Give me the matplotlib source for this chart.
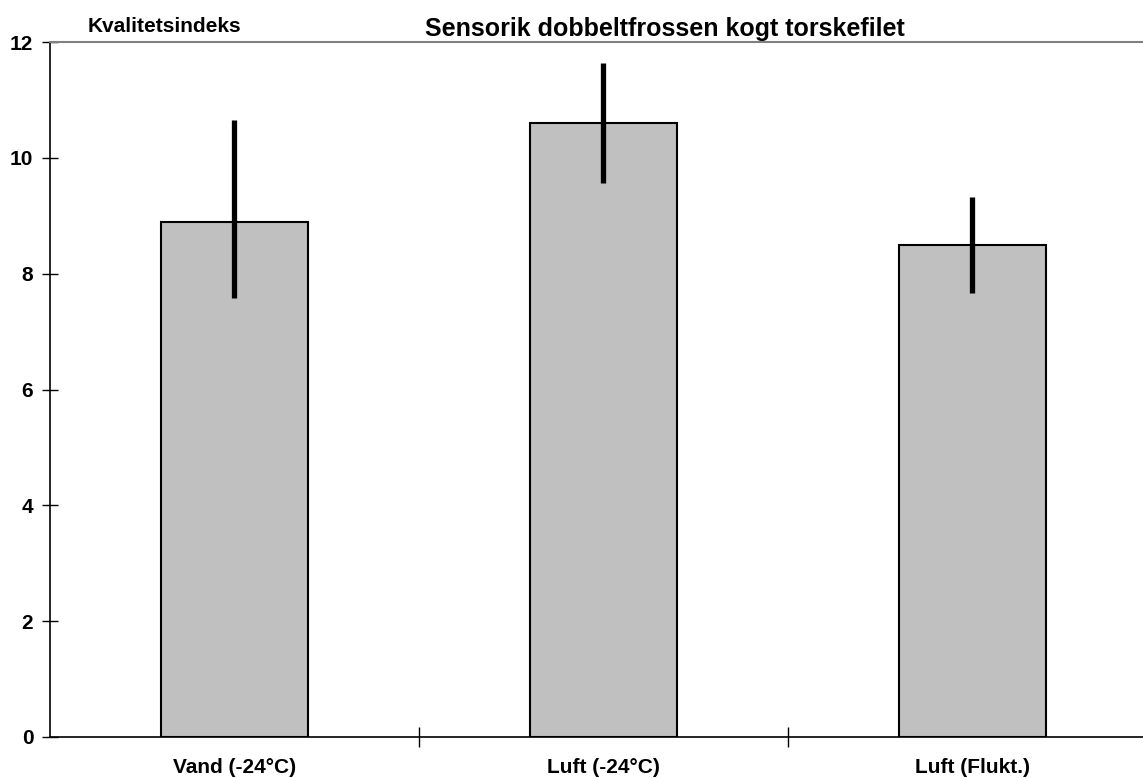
import matplotlib.pyplot as plt
import numpy as np

plt.rcParams['font.family'] = ['Liberation Sans', 'DejaVu Sans']
plt.rcParams['font.weight'] = 'bold'

categories = ['Vand (-24°C)', 'Luft (-24°C)', 'Luft (Flukt.)']
means = [8.9, 10.6, 8.5]
err_low = [1.32, 1.04, 0.84]
err_high = [1.75, 1.03, 0.83]

fig = plt.figure(figsize=(11.43, 7.78), dpi=100)
ax = fig.add_axes([50 / 1143, 41 / 778, 1107 / 1143, 695 / 778])

x = np.arange(len(categories))
ax.bar(x, means, width=0.4, color='#c0c0c0', edgecolor='black', linewidth=1.5, zorder=2)
ax.errorbar(x, means, yerr=[err_low, err_high], fmt='none', ecolor='black',
            elinewidth=3.8, capsize=0, zorder=3)

ax.set_xlim(-0.5, 2.5)
ax.set_ylim(0, 12)
ax.set_yticks(range(0, 13, 2))
ax.tick_params(axis='y', direction='inout', length=12, width=1, labelsize=15, pad=6)

# category labels centred, tick marks on the boundaries
ax.set_xticks(x)
ax.set_xticklabels(categories, fontsize=15, fontweight='bold')
ax.tick_params(axis='x', length=0, pad=15)
ax.set_xticks([0.5, 1.5], minor=True)
ax.tick_params(axis='x', which='minor', direction='inout', length=14, width=1)

ax.spines['right'].set_visible(False)
ax.spines['top'].set_color('#808080')
ax.spines['top'].set_linewidth(1.5)
ax.spines['left'].set_linewidth(1.2)
ax.spines['bottom'].set_linewidth(1.2)

fig.text(665 / 1143, 1 - 29 / 778, 'Sensorik dobbeltfrossen kogt torskefilet',
         ha='center', va='center', fontsize=18, fontweight='bold')
fig.text(88 / 1143, 1 - 27 / 778, 'Kvalitetsindeks', ha='left', va='center',
         fontsize=15, fontweight='bold')

fig.savefig('out.png', dpi=100)
